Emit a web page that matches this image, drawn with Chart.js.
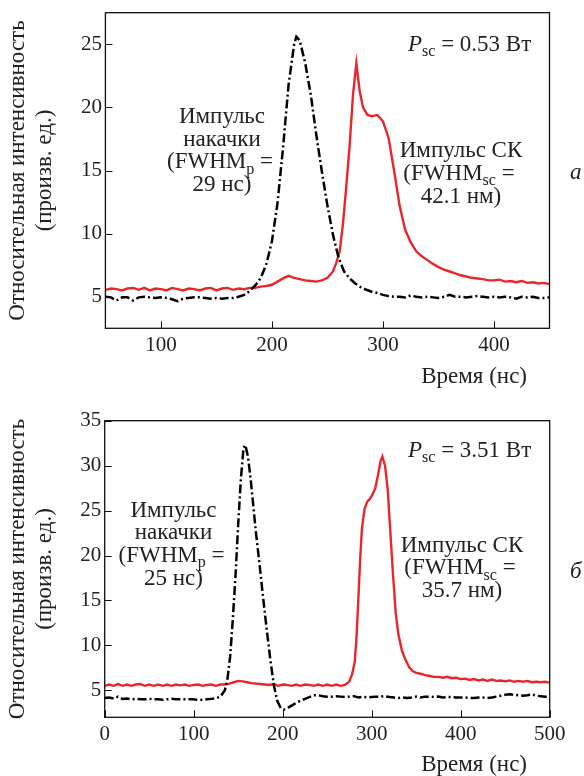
<!DOCTYPE html>
<html>
<head>
<meta charset="utf-8">
<script src="https://cdn.jsdelivr.net/npm/chart.js@4.4.0/dist/chart.umd.min.js"></script>
<style>
body { margin: 0; background: #fff; width: 584px; height: 776px; overflow: hidden; position: relative; }
canvas { position: absolute; left: 0; }
#chartA { top: 0; }
#chartB { top: 390px; }
</style>
</head>
<body>
<canvas id="chartA" width="584" height="390"></canvas>
<canvas id="chartB" width="584" height="386"></canvas>
<script>
// ---- panel a (Psc = 0.53 W) ----
var xTicksA = [100, 200, 300, 400];
var yTicksA = [5, 10, 15, 20, 25];

// pump pulse, dash-dot black
var pumpA_t = [50,55,60,65,70,75,80,85,90,95,100,105,110,115,120,125,130,135,140,145,150,155,160,165,170,175,180,185,190,195,200,205,210,215,220,222,225,230,235,240,245,250,255,260,265,270,275,280,285,290,295,300,305,310,315,320,325,330,335,340,345,350,355,360,365,370,375,380,385,390,395,400,405,410,415,420,425,430,435,440,445,450];
var pumpA_v = [5.0,4.95,4.7,4.95,4.95,4.7,4.95,5.0,4.95,4.9,4.95,4.9,4.8,4.65,4.85,4.9,4.95,4.95,4.9,4.85,4.9,4.85,4.9,4.9,5.0,5.15,5.45,5.9,6.5,7.6,9.4,12.4,16.8,21.8,25.0,25.6,25.3,23.5,21.0,17.8,14.9,12.2,9.9,8.1,7.0,6.45,6.05,5.75,5.55,5.4,5.3,5.15,5.05,5.0,5.0,4.95,5.1,5.0,4.95,5.0,4.95,4.9,5.0,5.15,5.0,5.0,4.95,5.0,5.05,5.0,4.95,5.0,4.95,5.0,4.95,4.85,5.0,4.95,5.0,4.9,4.9,4.95];

// supercontinuum pulse, red
var scA_t = [50,55,60,65,70,75,80,85,90,95,100,105,110,115,120,125,130,135,140,145,150,155,160,165,170,175,180,185,190,195,200,205,210,215,220,225,230,235,240,245,250,255,258,261,264,267,270,273,276,279,282,286,290,295,300,305,310,315,320,325,330,335,340,345,350,355,360,365,370,375,380,385,390,395,400,405,410,415,420,425,430,435,440,445,450];
var scA_v = [5.55,5.65,5.6,5.5,5.65,5.7,5.55,5.7,5.5,5.65,5.6,5.5,5.7,5.6,5.5,5.65,5.6,5.5,5.65,5.7,5.5,5.65,5.7,5.55,5.65,5.6,5.7,5.7,5.8,5.85,5.95,6.2,6.45,6.65,6.5,6.4,6.3,6.25,6.2,6.3,6.5,7.0,7.7,8.6,10.8,13.8,17.0,21.0,23.5,21.3,20.0,19.4,19.3,19.4,18.9,17.6,15.0,12.2,10.3,9.3,8.6,8.2,7.9,7.6,7.35,7.15,7.0,6.85,6.7,6.6,6.5,6.45,6.4,6.3,6.3,6.35,6.2,6.25,6.15,6.25,6.1,6.15,6.05,6.1,6.0];

// ---- panel б (Psc = 3.51 W) ----
var xTicksB = [0, 100, 200, 300, 400, 500];
var yTicksB = [5, 10, 15, 20, 25, 30, 35];

var pumpB_t = [0,5,10,15,20,25,30,35,40,45,50,55,60,65,70,75,80,85,90,95,100,105,110,115,120,125,130,135,138,141,144,147,150,153,156,158,161,164,167,170,174,178,182,186,190,194,198,201,205,210,215,220,225,230,235,240,245,250,255,260,265,270,275,280,285,290,295,300,305,310,315,320,325,330,335,340,345,350,355,360,365,370,375,380,385,390,395,400,405,410,415,420,425,430,435,440,445,450,455,460,465,470,475,480,485,490,495,500];
var pumpB_v = [4.15,4.2,4.1,4.3,4.05,4.1,4.0,4.05,4.0,4.0,4.05,4.0,4.0,3.95,4.0,4.05,4.0,4.0,4.0,4.0,4.0,3.9,3.95,4.0,4.05,4.1,4.3,5.0,6.3,8.8,13.0,17.8,23.5,28.5,32.0,32.3,31.0,28.5,25.5,22.5,19.0,15.3,11.8,8.5,5.6,3.8,3.0,2.85,3.0,3.3,3.6,3.85,4.05,4.25,4.45,4.45,4.35,4.3,4.3,4.35,4.3,4.25,4.3,4.35,4.2,4.3,4.2,4.25,4.3,4.3,4.35,4.25,4.2,4.15,4.2,4.15,4.2,4.3,4.2,4.3,4.3,4.25,4.3,4.2,4.25,4.25,4.2,4.2,4.2,4.15,4.15,4.2,4.2,4.15,4.2,4.3,4.4,4.5,4.55,4.5,4.45,4.4,4.45,4.55,4.4,4.35,4.3,4.3];

var scB_t = [0,5,10,15,20,25,30,35,40,45,50,55,60,65,70,75,80,85,90,95,100,105,110,115,120,125,130,135,140,145,150,155,160,165,170,175,180,185,190,195,200,205,210,215,220,225,230,235,240,245,250,255,260,265,270,275,278,281,283,285,287,289,292,295,298,301,304,307,310,312,315,318,321,324,327,330,334,338,342,346,350,355,360,365,370,375,380,385,390,395,400,405,410,415,420,425,430,435,440,445,450,455,460,465,470,475,480,485,490,495,500];
var scB_v = [5.5,5.65,5.5,5.7,5.5,5.65,5.5,5.65,5.7,5.5,5.65,5.5,5.65,5.5,5.65,5.5,5.65,5.55,5.65,5.5,5.6,5.65,5.5,5.6,5.65,5.5,5.65,5.65,5.75,5.9,6.05,6.0,5.9,5.8,5.75,5.7,5.65,5.6,5.7,5.5,5.65,5.6,5.5,5.65,5.5,5.65,5.6,5.5,5.65,5.5,5.65,5.5,5.65,5.5,5.6,6.0,6.8,8.2,11.0,15.2,19.5,23.0,25.2,26.0,26.3,26.8,27.5,28.9,30.5,31.0,30.0,27.3,22.5,17.8,13.6,11.2,9.4,8.4,7.6,7.15,6.95,6.85,6.7,6.6,6.5,6.5,6.4,6.5,6.35,6.4,6.25,6.3,6.15,6.25,6.1,6.2,6.05,6.2,6.05,6.1,6.0,6.1,5.95,6.05,5.95,6.05,5.9,5.95,5.9,5.95,5.85];

var SERIF = 'Liberation Serif';
var TEXT = '#222';
var RED = '#e8262b';

function pairs(t, v) {
  return t.map(function (x, i) { return { x: x, y: v[i] }; });
}

function fontFor(kind, size) {
  if (kind === 'i') return 'italic ' + size + 'px ' + SERIF;
  if (kind === 'sub') return Math.round(size * 0.68) + 'px ' + SERIF;
  return size + 'px ' + SERIF;
}

// draw a line of text made of plain / italic / subscript pieces
function drawRich(ctx, parts, x, y, align, size) {
  var widths = parts.map(function (p) {
    ctx.font = fontFor(p[1], size);
    return ctx.measureText(p[0]).width;
  });
  var total = widths.reduce(function (a, b) { return a + b; }, 0);
  var cx = align === 'center' ? x - total / 2 : (align === 'right' ? x - total : x);
  ctx.textAlign = 'left';
  ctx.textBaseline = 'alphabetic';
  parts.forEach(function (p, i) {
    ctx.font = fontFor(p[1], size);
    ctx.fillText(p[0], cx, p[1] === 'sub' ? y + size * 0.25 : y);
    cx += widths[i];
  });
}

// frame, inward ticks and the text notes
var decor = {
  id: 'decor',
  afterDraw: function (chart, args, opts) {
    var ctx = chart.ctx, a = chart.chartArea;
    var xs = chart.scales.x, ys = chart.scales.y;
    ctx.save();
    ctx.strokeStyle = '#111';
    ctx.lineWidth = 1;
    ctx.beginPath();
    xs.ticks.forEach(function (t) {
      var px = Math.round(xs.getPixelForValue(t.value)) + 0.5;
      ctx.moveTo(px, a.bottom);
      ctx.lineTo(px, a.bottom - 7);
    });
    ys.ticks.forEach(function (t) {
      var py = Math.round(ys.getPixelForValue(t.value)) + 0.5;
      ctx.moveTo(a.left, py);
      ctx.lineTo(a.left + 7, py);
    });
    ctx.stroke();
    ctx.lineWidth = 1.3;
    ctx.strokeRect(a.left, a.top, a.right - a.left, a.bottom - a.top);
    ctx.fillStyle = TEXT;
    (opts.notes || []).forEach(function (n) {
      drawRich(ctx, n.parts, n.x, n.y, n.align || 'center', n.size || 23);
    });
    ctx.restore();
  }
};

function makeChart(id, cfg) {
  return new Chart(document.getElementById(id), {
    type: 'line',
    data: {
      datasets: [{
        data: pairs(cfg.pumpT, cfg.pumpV),
        borderColor: '#000',
        borderWidth: 2.5,
        borderDash: [9, 3, 2, 3],
        pointRadius: 0,
        tension: 0
      }, {
        data: pairs(cfg.scT, cfg.scV),
        borderColor: RED,
        borderWidth: 2.4,
        pointRadius: 0,
        tension: 0
      }]
    },
    options: {
      responsive: false,
      animation: false,
      devicePixelRatio: 1,
      layout: { padding: cfg.padding },
      plugins: {
        legend: { display: false },
        tooltip: { enabled: false },
        decor: { notes: cfg.notes }
      },
      scales: {
        x: {
          type: 'linear',
          min: cfg.xMin, max: cfg.xMax,
          afterBuildTicks: function (s) { s.ticks = cfg.xTicks.map(function (v) { return { value: v }; }); },
          afterFit: function (s) { s.height = cfg.xAxisH; s.paddingLeft = 0; s.paddingRight = 0; },
          grid: { display: false, drawTicks: false },
          border: { display: false },
          ticks: { autoSkip: false, maxRotation: 0, padding: 5, color: TEXT, font: { family: SERIF, size: 21 } }
        },
        y: {
          type: 'linear',
          min: cfg.yMin, max: cfg.yMax,
          afterBuildTicks: function (s) { s.ticks = cfg.yTicks.map(function (v) { return { value: v }; }); },
          afterFit: function (s) { s.width = cfg.yAxisW; s.paddingTop = 0; s.paddingBottom = 0; },
          grid: { display: false, drawTicks: false },
          border: { display: false },
          ticks: { padding: 3.5, color: TEXT, font: { family: SERIF, size: 21 } },
          title: {
            display: true,
            text: ['Относительная интенсивность', '(произв. ед.)'],
            color: TEXT,
            font: { family: SERIF, size: 23, lineHeight: 1.18 },
            padding: { top: 4, bottom: 0 }
          }
        }
      }
    },
    plugins: [decor]
  });
}

makeChart('chartA', {
  pumpT: pumpA_t, pumpV: pumpA_v, scT: scA_t, scV: scA_v,
  xMin: 50, xMax: 450, yMin: 2.5, yMax: 27.5,
  xTicks: xTicksA, yTicks: yTicksA,
  padding: { left: 0, right: 34.5, top: 12.7, bottom: 0 },
  xAxisH: 61.7, yAxisW: 105.4,
  notes: [
    { parts: [['P', 'i'], ['sc', 'sub'], [' = 0.53 Вт', '']], x: 408, y: 50.7, align: 'left' },
    { parts: [['Импульс', '']], x: 222, y: 123.3 },
    { parts: [['накачки', '']], x: 222, y: 145.8 },
    { parts: [['(FWHM', ''], ['p', 'sub'], [' =', '']], x: 220, y: 168.2 },
    { parts: [['29 нс)', '']], x: 222, y: 190.5 },
    { parts: [['Импульс СК', '']], x: 461, y: 156.7 },
    { parts: [['(FWHM', ''], ['sc', 'sub'], [' =', '']], x: 459, y: 179.7 },
    { parts: [['42.1 нм)', '']], x: 461, y: 202.5 },
    { parts: [['a', 'i']], x: 570, y: 179, align: 'left' },
    { parts: [['Время (нс)', '']], x: 527, y: 382.5, align: 'right' }
  ]
});

makeChart('chartB', {
  pumpT: pumpB_t, pumpV: pumpB_v, scT: scB_t, scV: scB_v,
  xMin: 0, xMax: 500, yMin: 2, yMax: 35,
  xTicks: xTicksB, yTicks: yTicksB,
  padding: { left: 0, right: 34.3, top: 30.7, bottom: 0 },
  xAxisH: 58.7, yAxisW: 104.7,
  notes: [
    { parts: [['P', 'i'], ['sc', 'sub'], [' = 3.51 Вт', '']], x: 408, y: 66.7, align: 'left' },
    { parts: [['Импульс', '']], x: 173.5, y: 127.3 },
    { parts: [['накачки', '']], x: 173.5, y: 149.3 },
    { parts: [['(FWHM', ''], ['p', 'sub'], [' =', '']], x: 171.5, y: 171.7 },
    { parts: [['25 нс)', '']], x: 173.5, y: 194.5 },
    { parts: [['Импульс СК', '']], x: 462, y: 161.7 },
    { parts: [['(FWHM', ''], ['sc', 'sub'], [' =', '']], x: 460, y: 184.3 },
    { parts: [['35.7 нм)', '']], x: 462, y: 206.7 },
    { parts: [['б', 'i']], x: 570, y: 188.3, align: 'left' },
    { parts: [['Время (нс)', '']], x: 527, y: 381, align: 'right' }
  ]
});
</script>
</body>
</html>
